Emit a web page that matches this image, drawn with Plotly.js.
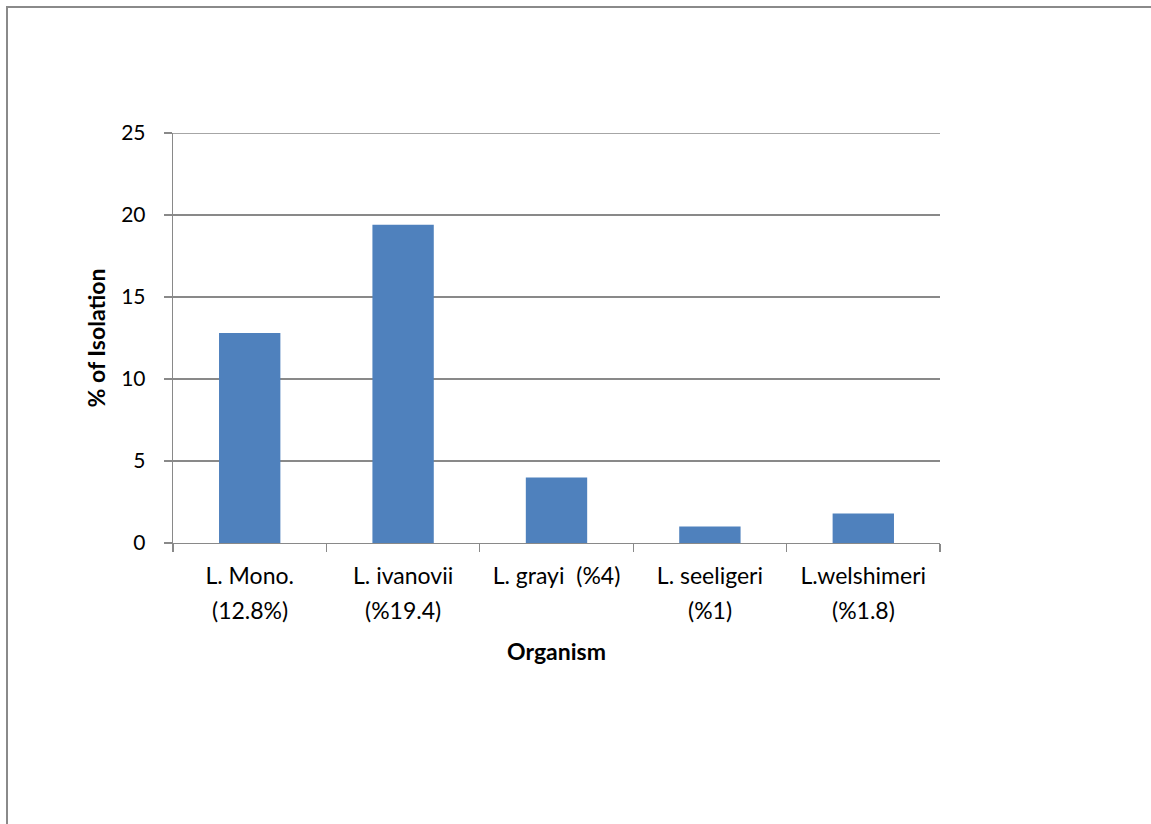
<!DOCTYPE html>
<html>
<head>
<meta charset="utf-8">
<script src="https://cdn.plot.ly/plotly-3.0.1.min.js"></script>
<style>
  html, body { margin: 0; padding: 0; background: #fff; overflow: hidden; }
  #chart { width: 1151px; height: 824px; position: absolute; left: 0; top: 0; }
  #frame { position: absolute; left: 6px; top: 6px; width: 1300px; height: 1000px;
           border: 2px solid #8a8a8a; pointer-events: none; z-index: 5; }
</style>
</head>
<body>
<div id="chart"></div>
<div id="frame"></div>
<script>
// Isolation rate of each Listeria species
const organisms = ["L. Mono.", "L. ivanovii", "L. grayi  (%4)", "L. seeligeri", "L.welshimeri"];
const rateNotes = ["(12.8%)", "(%19.4)", "", "(%1)", "(%1.8)"];
const isolation = [12.8, 19.4, 4, 1, 1.8];
const yTicks = [0, 5, 10, 15, 20, 25];
const yMax = 25;

const FONT = "Lato, Carlito, Calibri, 'Open Sans', sans-serif";
const GRID = "#898989";
const TEXT_SIZE = 23;

const trace = {
  type: "bar",
  x: organisms,
  y: isolation,
  marker: { color: "#4F81BD", line: { width: 0 } },
  hoverinfo: "x+y"
};

// second line under each category name
const notes = organisms.map((o, i) => ({
  x: o, y: 0, xref: "x", yref: "y",
  text: rateNotes[i], showarrow: false,
  yshift: -67, yanchor: "middle",
  font: { family: FONT, size: TEXT_SIZE, color: "#000" }
}));

const layout = {
  width: 1151, height: 824,
  margin: { l: 173, r: 211, t: 133, b: 281 },
  paper_bgcolor: "#fff", plot_bgcolor: "#fff",
  showlegend: false,
  bargap: 0.6,
  font: { family: FONT, size: TEXT_SIZE, color: "#000" },
  xaxis: {
    type: "category",
    tickson: "boundaries",
    ticks: "outside", ticklen: 8, tickcolor: GRID, tickwidth: 1.3,
    showline: true, linecolor: GRID, linewidth: 1.3,
    showgrid: false, zeroline: false,
    tickfont: { family: FONT, size: TEXT_SIZE, color: "#000" },
    ticklabelstandoff: 12,
    title: { text: "<b>Organism</b>", font: { family: FONT, size: TEXT_SIZE, color: "#000" }, standoff: 56 }
  },
  yaxis: {
    range: [0, yMax],
    tickvals: yTicks,
    ticks: "outside", ticklen: 8, tickcolor: GRID, tickwidth: 1.3,
    showline: true, linecolor: GRID, linewidth: 1.3,
    showgrid: true, gridcolor: GRID, gridwidth: 1.3,
    zeroline: false,
    tickfont: { family: FONT, size: 21, color: "#000" },
    ticklabelstandoff: 14,
    title: { text: "<b>% of Isolation</b>", font: { family: FONT, size: TEXT_SIZE, color: "#000" }, standoff: 9 }
  },
  // gridline along the top of the value range
  shapes: [{
    type: "line", xref: "paper", yref: "y",
    x0: 0, x1: 1, y0: yMax, y1: yMax,
    line: { color: GRID, width: 1.3 }
  }],
  annotations: notes
};

Plotly.newPlot("chart", [trace], layout, { displayModeBar: false, staticPlot: true });
</script>
</body>
</html>
